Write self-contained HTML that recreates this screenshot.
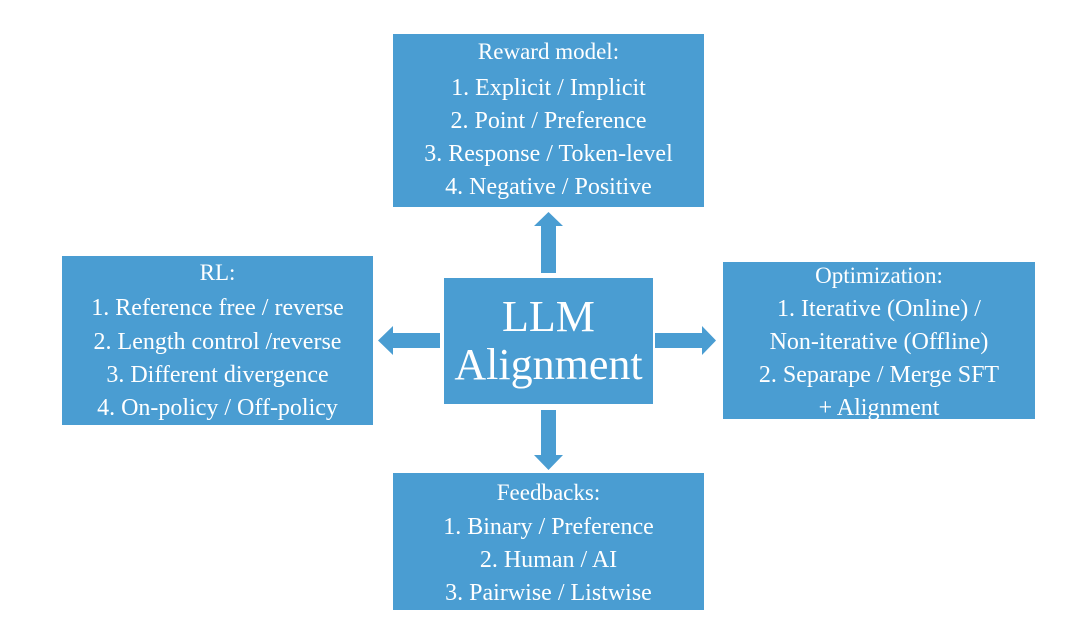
<!DOCTYPE html>
<html><head><meta charset="utf-8"><style>
body{margin:0;width:1080px;height:628px;background:#fff;position:relative;overflow:hidden;color:#fff}
*{font-family:"Liberation Serif","Times New Roman","DejaVu Serif",serif}
.b{position:absolute;background:#4a9dd2;overflow:hidden}
.l{position:absolute;left:0;right:0;text-align:center;font-size:24px;line-height:30px;white-space:nowrap}
.t{font-size:23px}
svg{position:absolute;left:0;top:0}
</style></head><body>
<div class="b" style="left:393px;top:34px;width:311px;height:173px">
<div class="l t" style="top:3px">Reward model:</div>
<div class="l" style="top:39px">1. Explicit / Implicit</div>
<div class="l" style="top:72px">2. Point / Preference</div>
<div class="l" style="top:105px">3. Response / Token-level</div>
<div class="l" style="top:138px">4. Negative / Positive</div>
</div>
<div class="b" style="left:62px;top:256px;width:311px;height:169px">
<div class="l t" style="top:2px">RL:</div>
<div class="l" style="top:37px">1. Reference free / reverse</div>
<div class="l" style="top:71px">2. Length control /reverse</div>
<div class="l" style="top:104px">3. Different divergence</div>
<div class="l" style="top:137px">4. On-policy / Off-policy</div>
</div>
<div class="b" style="left:444px;top:278px;width:209px;height:126px">
<div class="l" style="top:14px;font-size:44px;line-height:50px">LLM</div>
<div class="l" style="top:62px;font-size:44px;line-height:50px">Alignment</div>
</div>
<div class="b" style="left:723px;top:262px;width:312px;height:157px">
<div class="l t" style="top:-1px">Optimization:</div>
<div class="l" style="top:32px">1. Iterative (Online) /</div>
<div class="l" style="top:65px">Non-iterative (Offline)</div>
<div class="l" style="top:98px">2. Separape / Merge SFT</div>
<div class="l" style="top:131px">+ Alignment</div>
</div>
<div class="b" style="left:393px;top:473px;width:311px;height:137px">
<div class="l t" style="top:5px">Feedbacks:</div>
<div class="l" style="top:39px">1. Binary / Preference</div>
<div class="l" style="top:72px">2. Human / AI</div>
<div class="l" style="top:105px">3. Pairwise / Listwise</div>
</div>
<svg width="1080" height="628" fill="#4a9dd2">
<polygon points="541,273 541,226 534,226 548.5,212 563,226 556,226 556,273"/>
<polygon points="541,410 541,455 534,455 548.5,470 563,455 556,455 556,410"/>
<polygon points="440,333 393,333 393,326 378,340.5 393,355 393,348 440,348"/>
<polygon points="655,333 702,333 702,326 716,340.5 702,355 702,348 655,348"/>
</svg>
</body></html>
